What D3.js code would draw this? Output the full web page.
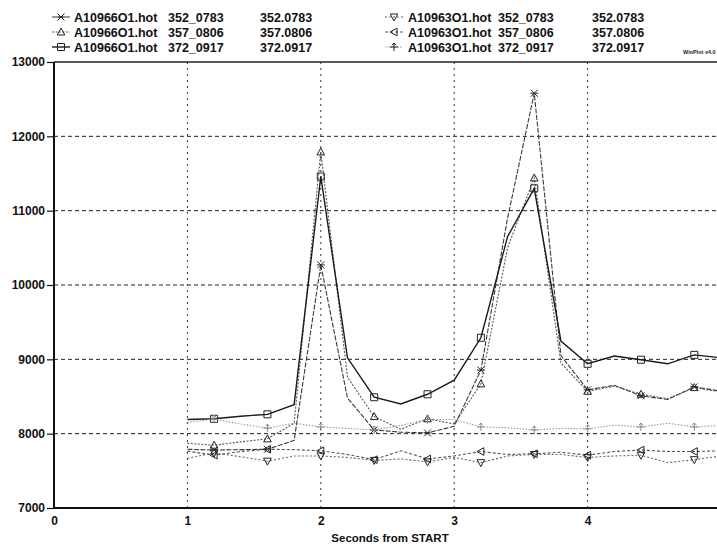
<!DOCTYPE html>
<html>
<head>
<meta charset="utf-8">
<script src="https://cdn.jsdelivr.net/npm/d3@7"></script>
<style>
  html, body { margin: 0; padding: 0; background: #fff; }
  svg { display: block; font-family: "Liberation Sans", Arial, sans-serif; font-weight: bold; }
</style>
</head>
<body>
<div id="visualization"></div>
<script>
// Sample times (seconds from START)
const times = [1.0, 1.2, 1.4, 1.6, 1.8, 2.0, 2.2, 2.4, 2.6, 2.8, 3.0, 3.2, 3.4, 3.6, 3.8, 4.0, 4.2, 4.4, 4.6, 4.8, 5.0];

// A10966O1.hot series
const a10966_352 = [7790, 7780, 7785, 7790, 7910, 10270, 8480, 8050, 8020, 8010, 8100, 8855, 10900, 12580, 9050, 8590, 8650, 8510, 8460, 8630, 8570];
const a10966_357 = [7870, 7845, 7890, 7930, 8140, 11790, 8760, 8230, 8060, 8200, 8130, 8670, 10500, 11440, 8950, 8570, 8640, 8530, 8470, 8620, 8560];
const a10966_372 = [8190, 8200, 8235, 8260, 8390, 11460, 9020, 8490, 8400, 8530, 8720, 9290, 10650, 11300, 9245, 8940, 9045, 8995, 8940, 9060, 9020];

// A10963O1.hot series
const a10963_352 = [7670, 7740, 7690, 7630, 7700, 7700, 7680, 7640, 7660, 7620, 7680, 7610, 7700, 7720, 7720, 7680, 7700, 7710, 7610, 7650, 7700];
const a10963_357 = [7765, 7710, 7760, 7790, 7785, 7770, 7720, 7650, 7770, 7660, 7700, 7760, 7720, 7730, 7750, 7710, 7760, 7780, 7760, 7760, 7770];
const a10963_372 = [8150, 8195, 8130, 8075, 8140, 8090, 8070, 8050, 8110, 8190, 8190, 8090, 8080, 8050, 8070, 8065, 8115, 8090, 8140, 8090, 8110];

const yTicks = [7000, 8000, 9000, 10000, 11000, 12000, 13000];
const xTicks = [0, 1, 2, 3, 4];

const legendNames = ["A10966O1.hot", "A10966O1.hot", "A10966O1.hot", "A10963O1.hot", "A10963O1.hot", "A10963O1.hot"];
const legendIons = ["352_0783", "357_0806", "372_0917", "352_0783", "357_0806", "372_0917"];
const legendMass = ["352.0783", "357.0806", "372.0917", "352.0783", "357.0806", "372.0917"];

const series = [
    {values: a10966_352, marker: "x",     stroke: "#3a3a3a", dash: "5,1.5", width: 1.1},
    {values: a10966_357, marker: "tri",   stroke: "#555",    dash: "2,1.5", width: 1.1},
    {values: a10966_372, marker: "sq",    stroke: "#1a1a1a", dash: null,    width: 1.4},
    {values: a10963_352, marker: "dtri",  stroke: "#666",    dash: "2,2",   width: 1.1},
    {values: a10963_357, marker: "ltri",  stroke: "#555",    dash: "3,2",   width: 1.1},
    {values: a10963_372, marker: "plus",  stroke: "#9a9a9a", dash: "1.5,1.5", width: 1.1}
];

const width = 717;
const height = 544;

const x = d3.scaleLinear().domain([0, 5]).range([54, 721]);
const y = d3.scaleLinear().domain([7000, 13000]).range([508, 62]);

const svg = d3.create("svg")
    .attr("width", width)
    .attr("height", height)
    .attr("viewBox", [0, 0, width, height]);

svg.append("rect").attr("width", width).attr("height", height).attr("fill", "#fff");

// Marker shapes
function markerPath(type) {
    switch (type) {
        case "x":    return "M-3.5,-3.5L3.5,3.5M-3.5,3.5L3.5,-3.5M-4,0L4,0";
        case "tri":  return "M0,-4L3.8,3L-3.8,3Z";
        case "sq":   return "M-3.5,-3.5H3.5V3.5H-3.5Z";
        case "dtri": return "M0,4L3.8,-3L-3.8,-3Z";
        case "ltri": return "M-4,0L3,-3.8L3,3.8Z";
        default:     return "M0,-4V4M-4,0H4M-2,-2L0,-4L2,-2";
    }
}

// Grid lines
const grid = svg.append("g");
grid.selectAll("line.h")
    .data(yTicks.filter(d => d > 7000 && d < 13000))
    .join("line")
    .attr("x1", x(0)).attr("x2", width)
    .attr("y1", d => y(d)).attr("y2", d => y(d))
    .attr("stroke", "#222")
    .attr("stroke-width", 1)
    .attr("stroke-dasharray", "4,3");

grid.selectAll("line.v")
    .data(xTicks.filter(d => d > 0))
    .join("line")
    .attr("x1", d => x(d)).attr("x2", d => x(d))
    .attr("y1", y(13000)).attr("y2", y(7000))
    .attr("stroke", "#333")
    .attr("stroke-width", 1)
    .attr("stroke-dasharray", "2,4");

// Series lines and markers
const line = d3.line()
    .x((d, i) => x(times[i]))
    .y(d => y(d));

const plot = svg.append("g");
series.forEach(s => {
    plot.append("path")
        .attr("d", line(s.values))
        .attr("fill", "none")
        .attr("stroke", s.stroke)
        .attr("stroke-width", s.width)
        .attr("stroke-dasharray", s.dash);

    plot.append("g")
        .selectAll("path")
        .data(s.values.map((v, i) => [times[i], v]).filter((d, i) => i % 2 === 1))
        .join("path")
        .attr("transform", d => `translate(${x(d[0])},${y(d[1])})`)
        .attr("d", markerPath(s.marker))
        .attr("fill", "none")
        .attr("stroke", s.stroke === "#9a9a9a" ? "#888" : "#222")
        .attr("stroke-width", 1);
});

// Axes
const yAxis = d3.axisLeft(y)
    .tickValues(yTicks)
    .tickSize(7)
    .tickPadding(2)
    .tickFormat(d3.format("d"));

svg.append("g")
    .attr("transform", `translate(${x(0)},0)`)
    .call(yAxis)
    .call(g => g.select(".domain").remove())
    .call(g => g.selectAll("line").attr("stroke", "#111").attr("stroke-width", 1.2))
    .call(g => g.selectAll("text").attr("font-size", 12).attr("font-weight", "bold").attr("fill", "#111")
        .attr("font-family", "'Liberation Sans', Arial, sans-serif"));

const xAxis = d3.axisBottom(x)
    .tickValues(xTicks)
    .tickSize(0)
    .tickPadding(8)
    .tickFormat(d3.format("d"));

svg.append("g")
    .attr("transform", `translate(0,${y(7000)})`)
    .call(xAxis)
    .call(g => g.select(".domain").remove())
    .call(g => g.selectAll("text").attr("font-size", 12).attr("font-weight", "bold").attr("fill", "#111")
        .attr("font-family", "'Liberation Sans', Arial, sans-serif"));

// Frame: top border, left axis and bottom axis
svg.append("line")
    .attr("x1", x(0)).attr("x2", width)
    .attr("y1", y(13000)).attr("y2", y(13000))
    .attr("stroke", "#222").attr("stroke-width", 1.5);
svg.append("line")
    .attr("x1", x(0)).attr("x2", x(0))
    .attr("y1", y(13000)).attr("y2", y(7000))
    .attr("stroke", "#111").attr("stroke-width", 2);
svg.append("line")
    .attr("x1", x(0) - 1).attr("x2", width)
    .attr("y1", y(7000)).attr("y2", y(7000))
    .attr("stroke", "#111").attr("stroke-width", 2.2);

svg.append("text")
    .attr("x", 390)
    .attr("y", 542)
    .attr("text-anchor", "middle")
    .attr("font-size", 11.5)
    .attr("fill", "#111")
    .text("Seconds from START");

svg.append("text")
    .attr("x", 683)
    .attr("y", 54)
    .attr("font-size", 5.5)
    .attr("fill", "#222")
    .text("WinPlot v4.0");

// Legend
const legend = svg.append("g");
series.forEach((s, i) => {
    const col = Math.floor(i / 3);
    const row = i % 3;
    const lx = col === 0 ? 52 : 385;
    const ly = 17 + row * 15;
    const g = legend.append("g").attr("transform", `translate(${lx},${ly})`);
    g.append("line")
        .attr("x1", 0).attr("x2", 18)
        .attr("stroke", s.stroke)
        .attr("stroke-width", s.width)
        .attr("stroke-dasharray", s.dash);
    g.append("path")
        .attr("transform", "translate(9,0)")
        .attr("d", markerPath(s.marker))
        .attr("fill", "none")
        .attr("stroke", "#222");
    const t = g.append("g").attr("font-size", 12.5).attr("fill", "#111");
    t.append("text").attr("x", col === 0 ? 22 : 23).attr("y", 4.5).text(legendNames[i]);
    t.append("text").attr("x", col === 0 ? 116 : 113).attr("y", 4.5).text(legendIons[i]);
    t.append("text").attr("x", col === 0 ? 208 : 207).attr("y", 4.5).text(legendMass[i]);
});

document.getElementById("visualization").appendChild(svg.node());
</script>
</body>
</html>
